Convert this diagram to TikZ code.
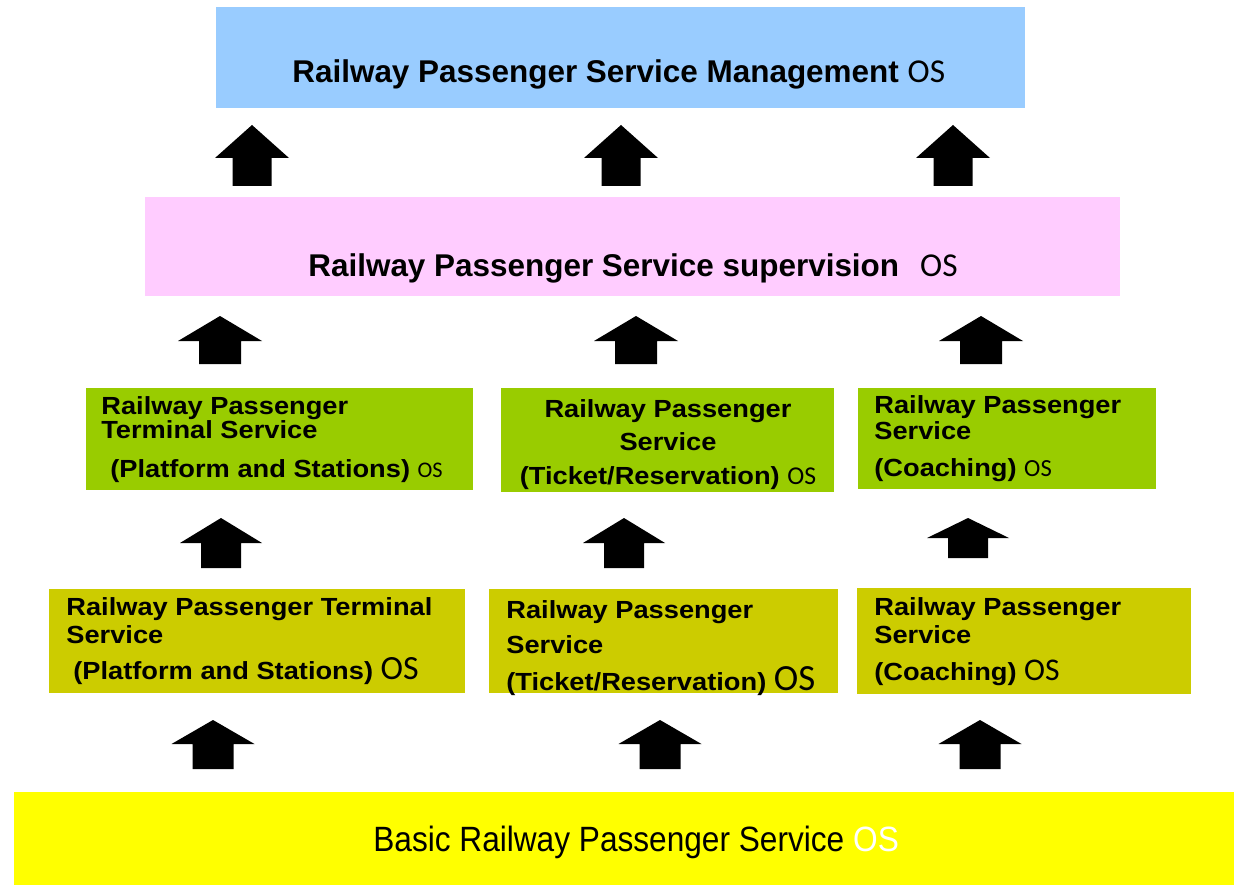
\documentclass[tikz,border=0pt]{standalone}
\usepackage{fontspec}
\setmainfont{Liberation Sans}
\newfontfamily\osfont{Carlito}
\newfontfamily\boxfont[FakeStretch=1.1]{Liberation Sans}

\definecolor{mgmtblue}{HTML}{99CCFF}
\definecolor{suppink}{HTML}{FFCCFF}
\definecolor{termgreen}{HTML}{99CC00}
\definecolor{baseolive}{HTML}{CCCC00}
\definecolor{basicyellow}{HTML}{FFFF00}

% block arrow pointing up: x, tip y, head base y, bottom y, half head, half shaft
\newcommand{\blockarrow}[6]{%
  \fill (#1-#5,#3) -- (#1,#2) -- (#1+#5,#3) -- (#1+#6,#3) -- (#1+#6,#4)
    -- (#1-#6,#4) -- (#1-#6,#3) -- cycle;}

\tikzset{
  layer/.style={rectangle, inner sep=0pt},
  txt/.style={anchor=base west, inner sep=0pt, font=\boxfont\bfseries\fontsize{14.1}{16}\selectfont},
  txtc/.style={txt, anchor=base},
  head/.style={anchor=base west, inner sep=0pt, font=\bfseries\fontsize{17.9}{21}\selectfont},
}

\begin{document}
\begin{tikzpicture}[x=0.02cm, y=-0.02cm]
  \useasboundingbox (0,0) rectangle (1234,885);

  % layers, top to bottom
  \node[layer, fill=mgmtblue, minimum width=16.18cm, minimum height=2.02cm] (mgmt) at (620.5,57.5) {};
  \node[layer, fill=suppink, minimum width=19.5cm, minimum height=1.98cm] (sup) at (632.5,246.5) {};
  \node[layer, fill=termgreen, minimum width=7.74cm, minimum height=2.04cm] (g1) at (279.5,439) {};
  \node[layer, fill=termgreen, minimum width=6.66cm, minimum height=2.08cm] (g2) at (667.5,440) {};
  \node[layer, fill=termgreen, minimum width=5.96cm, minimum height=2.02cm] (g3) at (1007,438.5) {};
  \node[layer, fill=baseolive, minimum width=8.32cm, minimum height=2.08cm] (o1) at (257,641) {};
  \node[layer, fill=baseolive, minimum width=6.98cm, minimum height=2.1cm] (o2) at (663.5,641) {};
  \node[layer, fill=baseolive, minimum width=6.68cm, minimum height=2.12cm] (o3) at (1024,641) {};
  \node[layer, fill=basicyellow, minimum width=24.4cm, minimum height=1.86cm] (basic) at (624,838.5) {};

  % titles
  \node[head] (mgmtt) at (292,83) {Railway Passenger Service Management {\mdseries\osfont\fontsize{19}{21}\selectfont OS}};
  \node[head] (supt) at (308,276) {Railway Passenger Service supervision\hspace{0.42cm}{\mdseries\osfont\fontsize{19}{21}\selectfont OS}};

  % terminal layer
  \node[txt] (g1a) at (101,414) {Railway Passenger};
  \node[txt] (g1b) at (101,438) {Terminal Service};
  \node[txt] (g1c) at (110,477) {(Platform and Stations) {\mdseries\osfont\fontsize{12.7}{14}\selectfont OS}};
  \node[txtc] (g2a) at (668,417) {Railway Passenger};
  \node[txtc] (g2b) at (668,450) {Service};
  \node[txtc] (g2c) at (668,484) {(Ticket/Reservation) {\mdseries\osfont\fontsize{14.6}{16}\selectfont OS}};
  \node[txt] (g3a) at (874,413) {Railway Passenger};
  \node[txt] (g3b) at (874,439) {Service};
  \node[txt] (g3c) at (874,476) {(Coaching) {\mdseries\osfont\fontsize{14}{16}\selectfont OS}};

  % base layer
  \node[txt] (o1a) at (66,615) {Railway Passenger Terminal};
  \node[txt] (o1b) at (66,643) {Service};
  \node[txt] (o1c) at (73,679) {(Platform and Stations) {\mdseries\osfont\fontsize{19.3}{21}\selectfont OS}};
  \node[txt] (o2a) at (506,618) {Railway Passenger};
  \node[txt] (o2b) at (506,653) {Service};
  \node[txt] (o2c) at (506,690) {(Ticket/Reservation) {\mdseries\osfont\fontsize{21}{23}\selectfont OS}};
  \node[txt] (o3a) at (874,615) {Railway Passenger};
  \node[txt] (o3b) at (874,643) {Service};
  \node[txt] (o3c) at (874,680) {(Coaching) {\mdseries\osfont\fontsize{18}{20}\selectfont OS}};

  \node[anchor=base west, inner sep=0pt] (basict) at (373,851)
    {\scalebox{0.9}[1]{\fontsize{20}{22}\selectfont Basic Railway Passenger Service \textcolor{white}{OS}}};

  % arrows between the layers
  \foreach \x in {252,621,953} {\blockarrow{\x}{125}{158}{186}{37}{19.5}}
  \foreach \x in {220,636,981} {\blockarrow{\x}{316}{341}{364}{42}{21}}
  \foreach \x in {221,624} {\blockarrow{\x}{518}{543}{568}{41}{20}}
  \blockarrow{968}{518}{538}{558}{41}{20}
  \foreach \x in {213,660,980} {\blockarrow{\x}{720}{744}{769}{41.5}{20.5}}
\end{tikzpicture}
\end{document}
